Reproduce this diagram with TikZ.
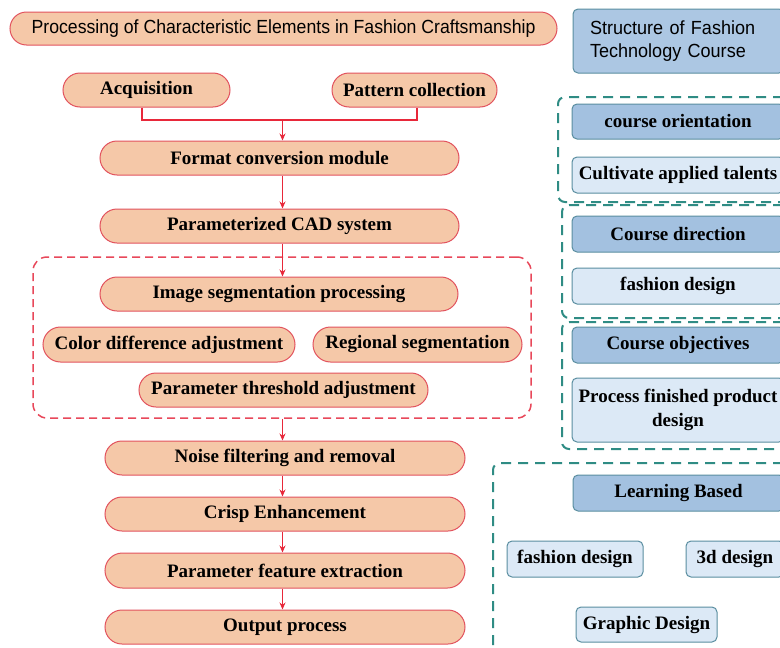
\documentclass[tikz,border=0pt]{standalone}
\usepackage{fontspec}
\setmainfont{Liberation Serif}
\newfontfamily\titlefont[FakeStretch=0.93]{Liberation Sans}
\newfontfamily\rtitlefont[FakeStretch=0.95]{Liberation Sans}
\usetikzlibrary{shapes.misc,arrows.meta}
\definecolor{pfill}{HTML}{F5C8A8}
\definecolor{pline}{HTML}{E2535E}
\definecolor{rarrow}{HTML}{E8283A}
\definecolor{bdark}{HTML}{A3C1E0}
\definecolor{blight}{HTML}{DCE9F6}
\definecolor{bline}{HTML}{5A8EA0}
\definecolor{tdash}{HTML}{2F8C84}
\definecolor{rdash}{HTML}{E8485A}
\tikzset{
  pill/.style={rounded rectangle, draw=pline, fill=pfill, line width=1pt,
    minimum height=34pt, inner sep=0pt, text=black,
    font=\fontsize{19}{22}\selectfont\bfseries},
  bbox/.style={rectangle, rounded corners=5pt, draw=bline, line width=1pt,
    minimum height=36pt, inner sep=0pt, text=black,
    font=\fontsize{19}{24}\selectfont\bfseries},
  bdk/.style={bbox, fill=bdark},
  blt/.style={bbox, fill=blight},
  tbox/.style={rectangle, rounded corners=7pt, draw=tdash, line width=2pt,
    dash pattern=on 10pt off 7pt, inner sep=0pt},
  rbox/.style={rectangle, rounded corners=14pt, draw=rdash, line width=1.5pt,
    dash pattern=on 8pt off 5pt, inner sep=0pt},
  redl/.style={draw=rarrow, line width=1.3pt},
  arr/.style={redl, -{Stealth[length=7pt,width=6pt]}}
}
\begin{document}
\begin{tikzpicture}[x=1pt,y=-1pt]
\useasboundingbox (0,0) rectangle (780,648);
\clip (0,0) rectangle (780,648);
\fill[white] (0,0) rectangle (780,648);

% dashed group frames
\node[rbox, minimum width=498pt, minimum height=161pt] (seg) at (282,337.5) {};
\node[tbox, minimum width=232pt, minimum height=105pt] (g1) at (674,149.5) {};
\node[tbox, minimum width=228pt, minimum height=113pt] (g2) at (676,261.5) {};
\node[tbox, minimum width=228pt, minimum height=127pt] (g3) at (676,385.5) {};
\node[tbox, minimum width=297pt, minimum height=207pt] (g4) at (641.5,566.5) {};

% left column
\node[pill, minimum width=547pt, minimum height=33pt, font=\titlefont\fontsize{19}{22}\selectfont] (title) at (283.5,28.5) {Processing of Characteristic Elements in Fashion Craftsmanship};
\node[pill, minimum width=167pt] (acq) at (146.5,90) {Acquisition};
\node[pill, minimum width=165pt] (pat) at (414.5,90) {Pattern collection};
\node[pill, minimum width=359pt] (fmt) at (279.5,158) {Format conversion module};
\node[pill, minimum width=359pt] (cad) at (279.5,226) {Parameterized CAD system};
\node[pill, minimum width=358pt] (img) at (279,294) {Image segmentation processing};
\node[pill, minimum width=252pt, minimum height=35pt] (col) at (169,344.5) {Color difference adjustment};
\node[pill, minimum width=209pt, minimum height=35pt] (reg) at (417.5,344.5) {Regional segmentation};
\node[pill, minimum width=289pt] (par) at (283.5,390) {Parameter threshold adjustment};
\node[pill, minimum width=360pt] (noise) at (285,458) {Noise filtering and removal};
\node[pill, minimum width=360pt] (crisp) at (285,514) {Crisp Enhancement};
\node[pill, minimum width=360pt, minimum height=35pt] (pfe) at (285,570.5) {Parameter feature extraction};
\node[pill, minimum width=360pt] (out) at (285,627) {Output process};

% connectors
\coordinate (j) at (282.5,120);
\draw[redl] ([xshift=-4.5pt]acq.south) |- (j) -| ([xshift=2.5pt]pat.south);
\draw[arr] (j) -- (j |- fmt.north);
\draw[arr] (fmt.south -| j) -- (cad.north -| j);
\draw[arr] (cad.south -| j) -- (img.north -| j);
\draw[arr] (seg.south -| j) -- (noise.north -| j);
\draw[arr] (noise.south -| j) -- (crisp.north -| j);
\draw[arr] (crisp.south -| j) -- (pfe.north -| j);
\draw[arr] (pfe.south -| j) -- (out.north -| j);

% right column
\node[bbox, fill=bdark!90!white, minimum width=211pt, minimum height=64pt,
  text width=177pt, align=left, inner xsep=17pt,
  font=\rtitlefont\fontsize{19}{23}\selectfont] (rt) at (678.5,41) {Structure of Fashion\\Technology Course};
\node[bdk, minimum width=212pt, minimum height=35pt] (co) at (678,121.5) {course orientation};
\node[blt, minimum width=212pt] (cat) at (678,175) {Cultivate applied talents};
\node[bdk, minimum width=212pt] (cd) at (678,234) {Course direction};
\node[blt, minimum width=212pt] (fd1) at (678,286) {fashion design};
\node[bdk, minimum width=212pt] (cobj) at (678,345) {Course objectives};
\node[blt, minimum width=212pt, minimum height=64pt, align=center] (pfp) at (678,410) {Process finished product\\design};
\node[bdk, minimum width=211pt] (lb) at (678.5,493) {Learning Based};
\node[blt, minimum width=136pt] (fd2) at (575,559) {fashion design};
\node[blt, minimum width=98pt] (d3) at (735,559) {3d design};
\node[blt, minimum width=141pt, minimum height=35pt] (gd) at (646.5,624.5) {Graphic Design};
\end{tikzpicture}
\end{document}
